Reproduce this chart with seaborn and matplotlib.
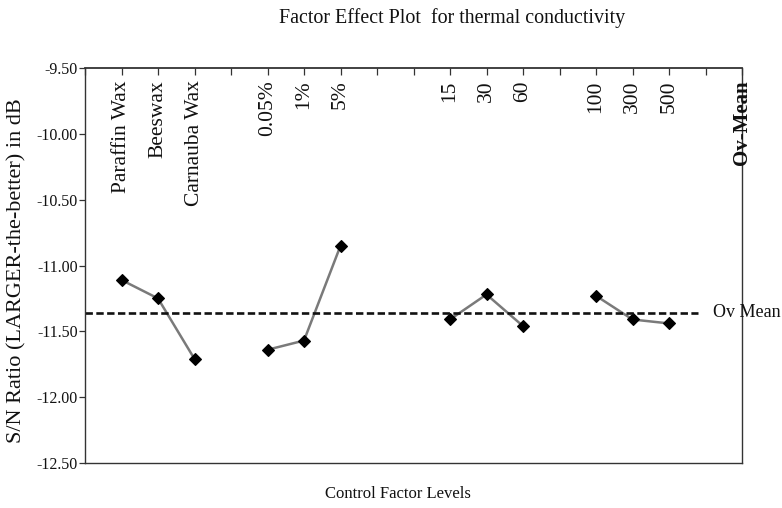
import numpy as np
import pandas as pd
import matplotlib
matplotlib.use("Agg")
import matplotlib.pyplot as plt
import seaborn as sns

# ---- data ----
factors = ["Wax", "Wax", "Wax",
           "Concentration", "Concentration", "Concentration",
           "Time", "Time", "Time",
           "Speed", "Speed", "Speed"]
levels = ["Paraffin Wax", "Beeswax", "Carnauba Wax",
          "0.05%", "1%", "5%",
          "15", "30", "60",
          "100", "300", "500"]
sn_ratio = [-11.11, -11.25, -11.71,
            -11.64, -11.57, -10.85,
            -11.41, -11.22, -11.46,
            -11.23, -11.41, -11.44]
y_ticks = [-9.50, -10.00, -10.50, -11.00, -11.50, -12.00, -12.50]

title = "Factor Effect Plot  for thermal conductivity"
x_label = "Control Factor Levels"
y_label = "S/N Ratio (LARGER-the-better) in dB"
mean_label = "Ov Mean"
mean_axis_label = "Ov-Mean"

# ---- layout (slot where each factor group starts on the x axis) ----
group_start = {"Wax": 1, "Concentration": 5, "Time": 10, "Speed": 14}
n_slots = 18

df = pd.DataFrame({"factor": factors, "level": levels, "sn": sn_ratio})
df["idx"] = df.groupby("factor", sort=False).cumcount()
df["pos"] = df["factor"].map(group_start) + df["idx"]
overall_mean = float(np.mean(sn_ratio))

sns.set_theme(style="white")
plt.rcParams["font.family"] = ["Liberation Serif", "DejaVu Serif"]

fig = plt.figure(figsize=(7.82, 5.08), dpi=100)
ax = fig.add_axes([85 / 782, 45 / 508, 657 / 782, 395 / 508])

sns.lineplot(data=df, x="pos", y="sn", units="factor", estimator=None,
             color="#7a7a7a", linewidth=1.8, marker="D", markersize=6.5,
             markerfacecolor="black", markeredgecolor="black",
             markeredgewidth=0.8, ax=ax, legend=False, sort=False)

# overall mean dashed line
ax.plot([0, 16.8], [overall_mean, overall_mean], color="#111111",
        linewidth=1.9, dashes=(2.8, 1.3), clip_on=False)
ax.text(17.2, overall_mean, mean_label, fontsize=13, ha="left", va="center",
        color="#111111", clip_on=False)

ax.set_xlim(0, n_slots)
ax.set_ylim(y_ticks[-1], y_ticks[0])
ax.set_yticks(y_ticks)
ax.set_yticklabels([f"{v:.2f}" for v in y_ticks], fontsize=11.5)
ax.tick_params(axis="y", direction="out", length=4, width=0.9, pad=1,
               left=True, color="#333333", labelcolor="#111111")

# top ticks pointing inward at every slot
ax.set_xticks(np.arange(0, n_slots + 1))
ax.set_xticklabels([])
ax.tick_params(axis="x", top=True, bottom=False, labeltop=False,
               labelbottom=False, direction="in", length=5, width=0.9,
               color="#333333")

# level labels rotated, hanging from top
for p, lab in zip(df["pos"], df["level"]):
    ax.annotate(lab, xy=(p, 1), xycoords=("data", "axes fraction"),
                xytext=(0, -9), textcoords="offset points",
                rotation=90, ha="center", va="top", fontsize=15.5,
                color="#111111")
ax.annotate(mean_axis_label, xy=(n_slots, 1), xycoords=("data", "axes fraction"),
            xytext=(0, -9), textcoords="offset points",
            rotation=90, ha="center", va="top", fontsize=15,
            fontweight="bold", color="#111111")

for s in ax.spines.values():
    s.set_visible(True)
    s.set_color("#333333")
    s.set_linewidth(1.0)
ax.spines["top"].set_linewidth(1.3)

ax.set_xlabel("")
ax.set_ylabel("")

fig.text(452 / 782, 1 - 18 / 508, title, fontsize=14.4, ha="center",
         va="center", color="#111111")
fig.text(398 / 782, 1 - 494 / 508, x_label, fontsize=12, ha="center",
         va="center", color="#111111")
fig.text(17 / 782, 1 - 271 / 508, y_label, fontsize=16, rotation=90,
         ha="center", va="center", color="#111111")

fig.savefig("out.png", dpi=100)
